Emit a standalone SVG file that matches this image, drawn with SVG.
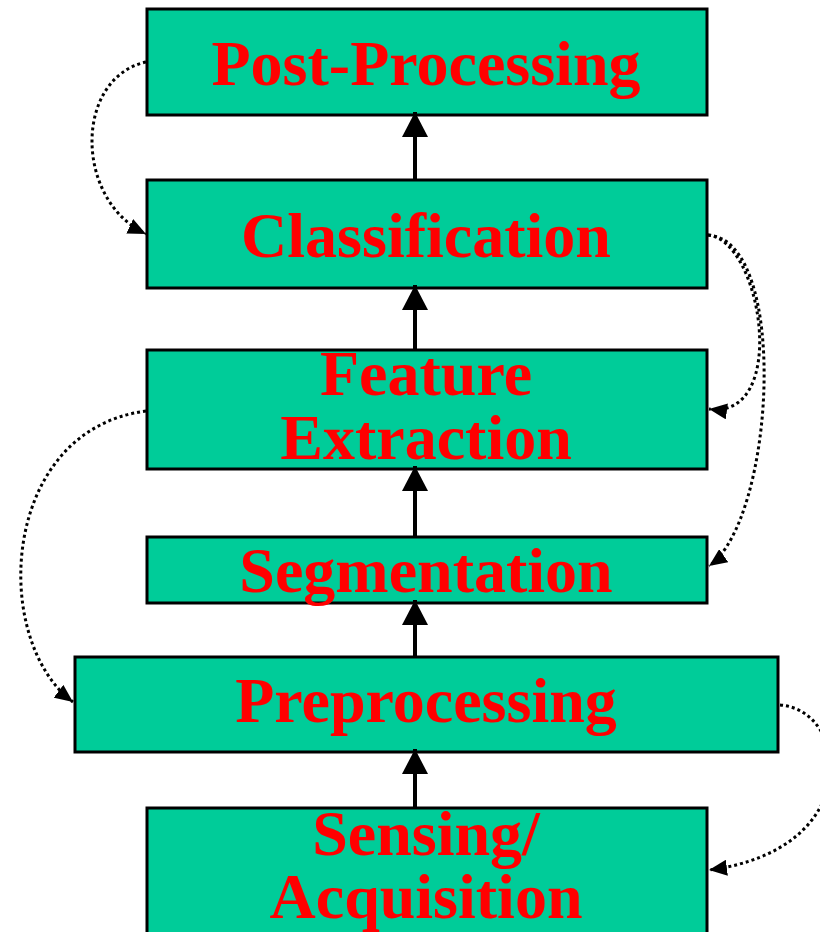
<svg xmlns="http://www.w3.org/2000/svg" width="820" height="932" viewBox="0 0 820 932">
  <style>
    .box { fill: #00CC99; stroke: #000; stroke-width: 3; }
    .label { font-family: "Liberation Serif", "Times New Roman", serif; font-weight: bold; font-size: 64px; fill: #FF0000; text-anchor: middle; }
    .flow { stroke: #000; stroke-width: 4; fill: none; marker-end: url(#solidHead); }
    .loop { stroke: #000; stroke-width: 3; fill: none; stroke-dasharray: 3 3; marker-end: url(#dotHead); }
  </style>
  <defs>
    <marker id="solidHead" markerUnits="userSpaceOnUse" markerWidth="26" markerHeight="26" viewBox="0 0 26 26" refX="25" refY="13" orient="auto">
      <path d="M0,0 L25,13 L0,26 Z" fill="#000"/>
    </marker>
    <marker id="dotHead" markerUnits="userSpaceOnUse" markerWidth="18" markerHeight="16" viewBox="0 0 18 16" refX="18" refY="8" orient="auto">
      <path d="M0,0 L18,8 L0,16 Z" fill="#000"/>
    </marker>
  </defs>

  <rect width="820" height="932" fill="#fff"/>

  <g id="post-processing">
    <rect class="box" x="147" y="9" width="560" height="106"/>
    <text class="label" x="426" y="85">Post-Processing</text>
  </g>
  <g id="classification">
    <rect class="box" x="147" y="180" width="560" height="108"/>
    <text class="label" x="426" y="257">Classification</text>
  </g>
  <g id="feature-extraction">
    <rect class="box" x="147" y="350" width="560" height="119"/>
    <text class="label" x="426" y="395">Feature</text>
    <text class="label" x="426" y="459">Extraction</text>
  </g>
  <g id="segmentation">
    <rect class="box" x="147" y="537" width="560" height="66"/>
    <text class="label" x="426" y="592">Segmentation</text>
  </g>
  <g id="preprocessing">
    <rect class="box" x="75" y="657" width="703" height="95"/>
    <text class="label" x="426" y="722">Preprocessing</text>
  </g>
  <g id="sensing-acquisition">
    <rect class="box" x="147" y="808" width="560" height="140"/>
    <text class="label" x="426" y="855">Sensing/</text>
    <text class="label" x="426" y="918">Acquisition</text>
  </g>

  <g id="connectors">
    <!-- main upward flow -->
    <path class="flow" d="M415,180 L415,112"/>
    <path class="flow" d="M415,350 L415,285"/>
    <path class="flow" d="M415,537 L415,466"/>
    <path class="flow" d="M415,657 L415,600"/>
    <path class="flow" d="M415,808 L415,749"/>
    <!-- dotted feedback loops -->
    <path class="loop" d="M146,62 C74,78 74,200 146,234"/>
    <path class="loop" d="M708,235 C762,240 790,420 709,409"/>
    <path class="loop" d="M708,235 C790,240 775,520 709,566"/>
    <path class="loop" d="M146,411 C0,430 -10,640 73,702"/>
    <path class="loop" d="M780,705 C850,710 865,850 709,870"/>
  </g>
</svg>
